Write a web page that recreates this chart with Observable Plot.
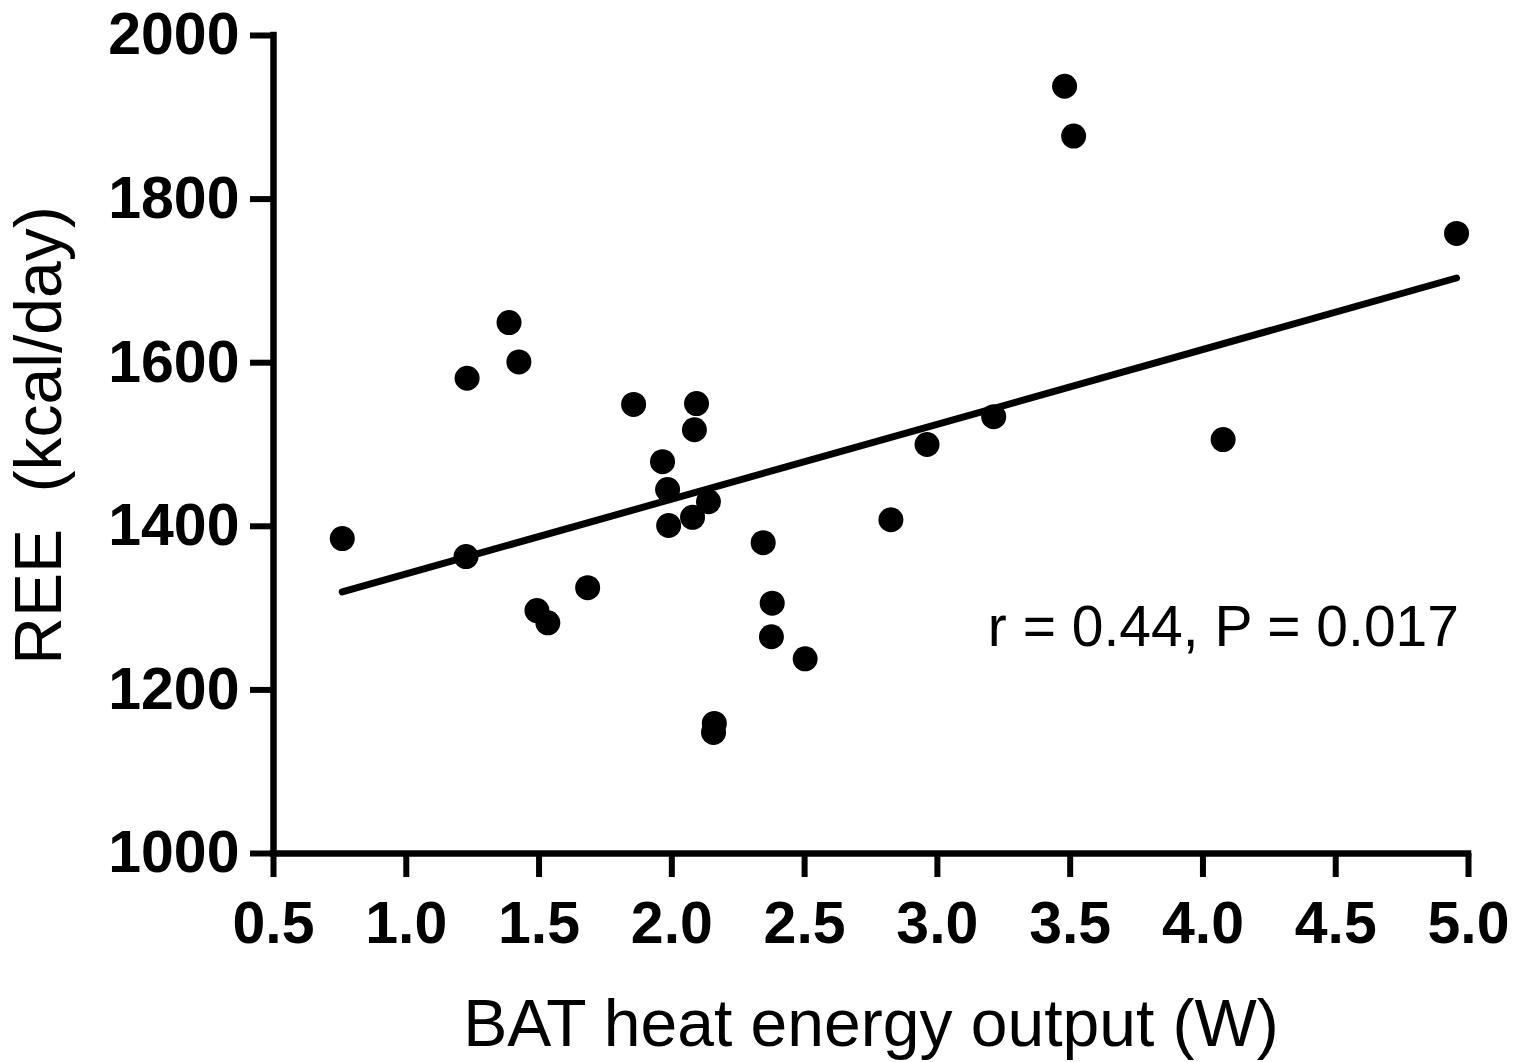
<!DOCTYPE html>
<html>
<head>
<meta charset="utf-8">
<script src="https://cdn.jsdelivr.net/npm/d3@7"></script>
<script src="https://cdn.jsdelivr.net/npm/@observablehq/plot@0.6"></script>
<style>
  html, body { margin: 0; padding: 0; background: #fff; }
  #chart svg { display: block; }
</style>
</head>
<body>
<div id="chart"></div>
<script>
// BAT heat energy output (W)
const batHeat = [0.759, 1.229, 1.225, 1.387, 1.424, 1.492, 1.533, 1.683, 1.856, 1.965,
                 1.984, 1.988, 2.093, 2.085, 2.078, 2.138, 2.160, 2.157, 2.344, 2.378,
                 2.375, 2.502, 2.825, 2.961, 3.212, 3.479, 3.513, 4.076, 4.955];
// REE (kcal/day)
const ree = [1385, 1581, 1363, 1649, 1601, 1297, 1282, 1325, 1549, 1479,
             1445, 1401, 1550, 1518, 1411, 1430, 1159, 1148, 1380, 1306,
             1265, 1238, 1408, 1500, 1534, 1938, 1877, 1506, 1758];

const xTicks = [0.5, 1.0, 1.5, 2.0, 2.5, 3.0, 3.5, 4.0, 4.5, 5.0];
const yTicks = [1000, 1200, 1400, 1600, 1800, 2000];
const xLabel = "BAT heat energy output (W)";
const yLabel = "REE  (kcal/day)";
const statText = "r = 0.44, P = 0.017";
const statPos = {x: 3.19, y: 1254};

const data = batHeat.map((x, i) => ({x, y: ree[i]}));

const chart = Plot.plot({
  width: 1515,
  height: 1062,
  marginLeft: 273,
  marginRight: 47,
  marginTop: 35,
  marginBottom: 209,
  style: {fontFamily: "'Liberation Sans', Arial, sans-serif", background: "#fff", color: "#000"},
  x: {domain: [0.5, 5.0]},
  y: {domain: [1000, 2000]},
  marks: [
    Plot.axisX(xTicks, {tickSize: 24, tickPadding: 24, fontSize: 59, fontWeight: "bold",
                        strokeWidth: 6, tickFormat: d => d.toFixed(1), label: null}),
    Plot.axisY(yTicks, {tickSize: 23, tickPadding: 11, fontSize: 59, fontWeight: "bold",
                        strokeWidth: 6, tickFormat: d => String(d), label: null}),
    Plot.ruleX([0.5], {strokeWidth: 6.5, strokeLinecap: "square"}),
    Plot.ruleY([1000], {strokeWidth: 6.5, strokeLinecap: "square"}),
    Plot.linearRegressionY(data, {x: "x", y: "y", ci: 0, stroke: "#000", strokeWidth: 7}),
    Plot.dot(data, {x: "x", y: "y", r: 12.5, fill: "#000", stroke: null}),
    Plot.text([statText], {x: () => statPos.x, y: () => statPos.y, text: d => d,
                           textAnchor: "start", lineAnchor: "bottom", fontSize: 57}),
    Plot.text([xLabel], {frameAnchor: "bottom", text: d => d, dy: 192,
                         lineAnchor: "bottom", fontSize: 66}),
    Plot.text([yLabel], {frameAnchor: "left", text: d => d, rotate: -90, dx: -213, dy: -9,
                         textAnchor: "middle", lineAnchor: "bottom", fontSize: 66})
  ]
});
document.getElementById("chart").appendChild(chart);
</script>
</body>
</html>
